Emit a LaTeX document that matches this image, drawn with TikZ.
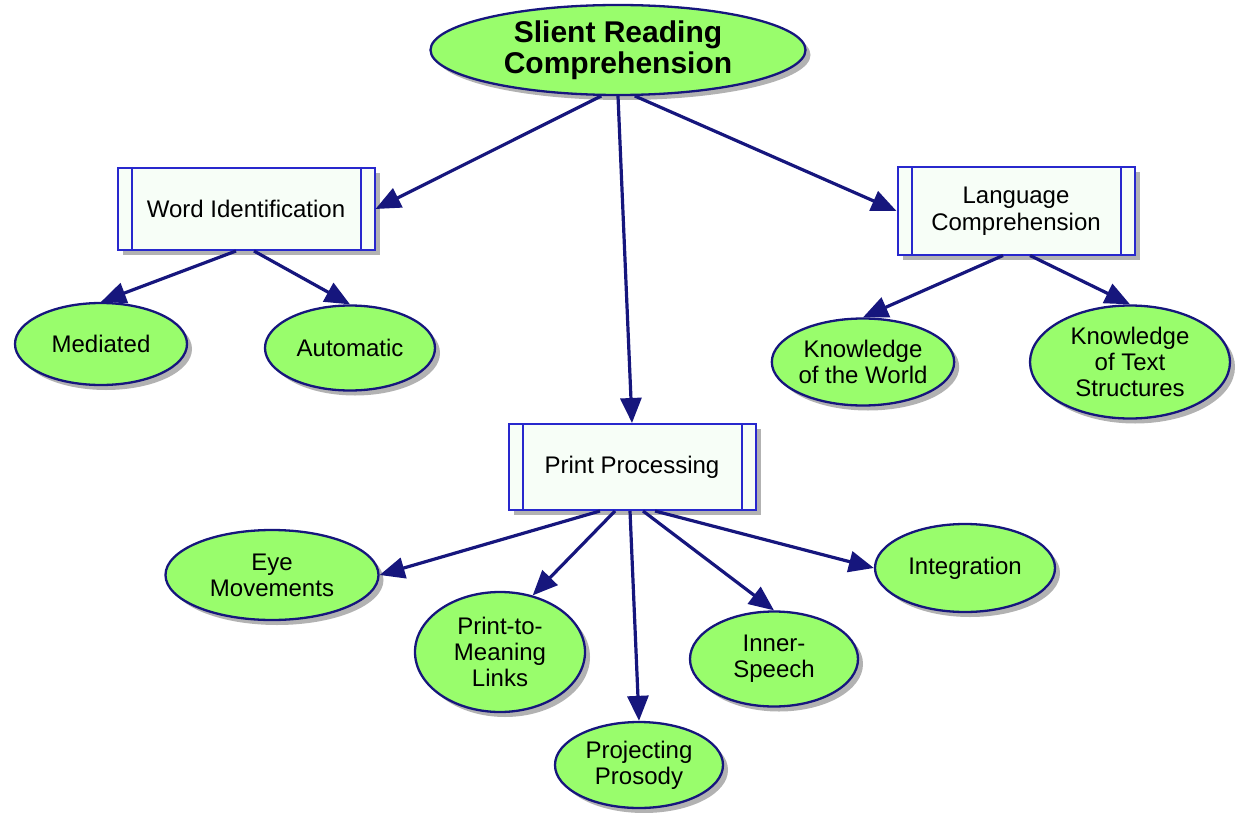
\documentclass[tikz,border=0pt]{standalone}
\usepackage{fontspec}
\setmainfont{Liberation Sans}
\usepackage{tikz}
\usetikzlibrary{calc}
\usetikzlibrary{shapes.geometric}
\usetikzlibrary{shadows}
\usetikzlibrary{arrows.meta}

\definecolor{bubblegreen}{RGB}{153,253,108}
\definecolor{linknavy}{RGB}{22,22,125}
\definecolor{boxblue}{RGB}{40,40,205}
\definecolor{boxfill}{RGB}{247,254,247}

\begin{document}
\begin{tikzpicture}[x=1pt, y=-1pt,
		bubble/.style={ellipse, draw=linknavy, line width=2.3pt, fill=bubblegreen, inner sep=0pt, align=center,
			font=\fontsize{24}{26}\selectfont, drop shadow={shadow xshift=5pt, shadow yshift=-5pt, fill=black, opacity=0.3}},
		topbubble/.style={bubble, font=\bfseries\fontsize{30}{31}\selectfont},
		procbox/.style={rectangle, draw=boxblue, line width=2pt, fill=boxfill, inner sep=0pt, align=center,
			font=\fontsize{24}{27}\selectfont, drop shadow={shadow xshift=5pt, shadow yshift=-5pt, fill=black, opacity=0.3}},
		boxline/.style={draw=boxblue, line width=2pt},
		link/.style={draw=linknavy, line width=3.2pt, -{Triangle[length=25pt, width=21pt]}}]
			\useasboundingbox (0,0) rectangle (1241,813);

			\node[topbubble, minimum width=375pt, minimum height=90pt] (src) at (618,50) {Slient Reading\\Comprehension};

			\node[procbox, minimum width=257pt, minimum height=82pt] (wi) at (246,209) {Word Identification};
			\node[procbox, minimum width=237pt, minimum height=87pt] (lc) at (1016,211) {Language\\Comprehension};
			\node[procbox, minimum width=247pt, minimum height=86pt] (pp) at (632,467) {Print Processing};

			\foreach \n in {wi,lc,pp} {
				\draw[boxline] ($(\n.north west)+(15,0)$) -- ($(\n.south west)+(15,0)$);
				\draw[boxline] ($(\n.north east)+(-15,0)$) -- ($(\n.south east)+(-15,0)$);
			}

			\node[bubble, minimum width=172pt, minimum height=82pt] (med) at (101,344) {Mediated};
			\node[bubble, minimum width=170pt, minimum height=85pt] (aut) at (350,348) {Automatic};
			\node[bubble, minimum width=170pt, minimum height=87pt] (kw) at (863,362) {Knowledge\\of the World};
			\node[bubble, minimum width=200pt, minimum height=113pt] (kt) at (1130,362) {Knowledge\\of Text\\Structures};

			\node[bubble, minimum width=213pt, minimum height=90pt] (eye) at (272,575) {Eye\\Movements};
			\node[bubble, minimum width=170pt, minimum height=120pt] (ptm) at (500,652) {Print-to-\\Meaning\\Links};
			\node[bubble, minimum width=168pt, minimum height=86pt] (pro) at (639,765) {Projecting\\Prosody};
			\node[bubble, minimum width=168pt, minimum height=95pt] (inn) at (774,659) {Inner-\\Speech};
			\node[bubble, minimum width=180pt, minimum height=88pt] (int) at (965,568) {Integration};

			\draw[link] (src.-110) -- (wi.east);
			\draw[link] (src.south) -- (pp.north);
			\draw[link] (src.-70) -- (lc.west);

			\draw[link] ($(wi.south)+(-10,0)$) -- (med.north);
			\draw[link] ($(wi.south)+(8,0)$) -- (aut.north);
			\draw[link] ($(lc.south)+(-13,0)$) -- (kw.north);
			\draw[link] ($(lc.south)+(14,0)$) -- (kt.north);

			\draw[link] ($(pp.south)+(-32,0)$) -- (eye.east);
			\draw[link] ($(pp.south)+(-17,0)$) -- (ptm.60);
			\draw[link] ($(pp.south)+(-2,0)$) -- (pro.north);
			\draw[link] ($(pp.south)+(11,0)$) -- (inn.north);
			\draw[link] ($(pp.south)+(23,0)$) -- (int.west);
		\end{tikzpicture}
\end{document}
